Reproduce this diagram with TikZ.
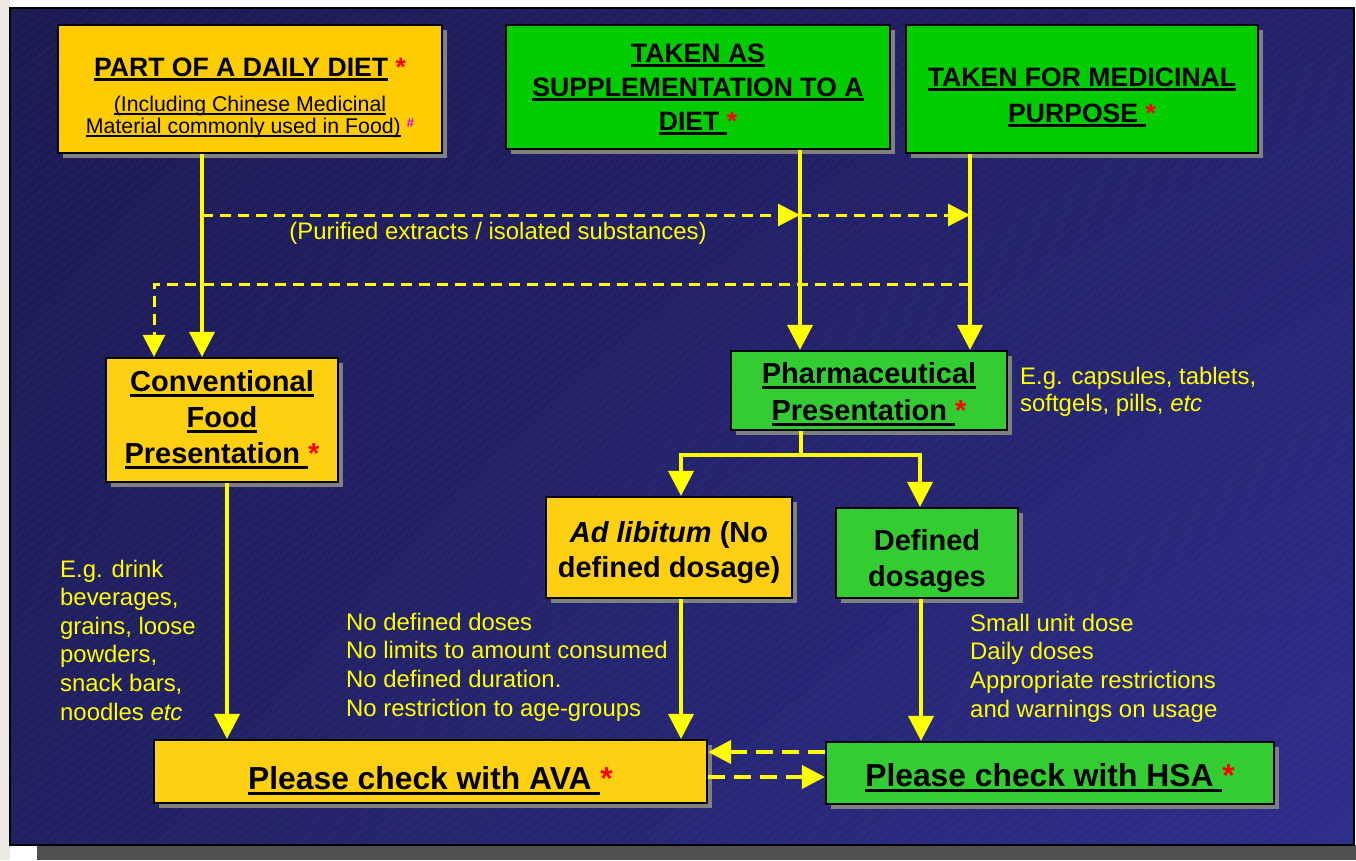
\documentclass[tikz,border=0pt]{standalone}
\usepackage{fontspec}
\setmainfont{Liberation Sans}
\usetikzlibrary{arrows.meta,positioning,shadows,shadings,calc}
\definecolor{dietyellow}{RGB}{255,204,0}
\definecolor{boxyellow}{RGB}{255,208,17}
\definecolor{dietgreen}{RGB}{0,204,0}
\definecolor{boxgreen}{RGB}{51,204,51}
\definecolor{flowyellow}{RGB}{255,255,0}
\definecolor{shadowgray}{RGB}{128,128,128}
\definecolor{navyA}{RGB}{28,26,82}
\definecolor{navyB}{RGB}{36,34,108}
\definecolor{navyC}{RGB}{33,32,98}
\definecolor{navyD}{RGB}{46,46,140}
\definecolor{hashcol}{RGB}{204,0,255}
\definecolor{bandgray}{RGB}{80,80,80}
\definecolor{marginbeige}{RGB}{238,234,227}

\newcommand{\fs}[2]{\fontsize{#1}{#2}\selectfont}
\newcommand{\uln}[1]{\setbox0=\hbox{#1}\leavevmode\rlap{\rule[-0.18em]{\wd0}{0.1em}}\box0}
\newcommand{\rast}{\textcolor{red}{*}}
\newcommand{\padtop}[1]{\rule{0pt}{#1}}

\tikzset{
  box/.style={draw=black, line width=2.2pt, inner sep=0pt, align=center, font=\bfseries,
    drop shadow={shadow xshift=5pt, shadow yshift=-5pt, fill=shadowgray, opacity=1}},
  flow/.style={flowyellow, line width=3.8pt, -{Triangle[length=25pt,width=25pt]}},
  dflow/.style={flowyellow, line width=3pt, dash pattern=on 11pt off 7pt, -{Triangle[length=22pt,width=22pt]}},
  bflow/.style={flowyellow, line width=4pt, dash pattern=on 17pt off 9pt, -{Triangle[length=23pt,width=23pt]}},
  note/.style={text=flowyellow, align=left, anchor=west, inner sep=0pt},
  hatch/.style={white, opacity=0.06, line width=0.6pt}
}

\begin{document}
\begin{tikzpicture}[x=1pt, y=-1pt]
    \useasboundingbox (0,0) rectangle (1356,860);

    % Backdrop
    \fill[white] (0,0) rectangle (1356,860);
    \fill[marginbeige] (0,0) rectangle (10,860);
    \fill[bandgray] (37,845) rectangle (1356,860);
    \shade[upper left=navyA, upper right=navyB, lower left=navyC, lower right=navyD] (10,8) rectangle (1354,845);
    \begin{scope}
        \clip (10,8) rectangle (1354,845);
        \foreach \i in {-1200,-1188,...,1400}
            \draw[hatch] (\i,860) -- ++(1140,-866);
    \end{scope}
    \draw[black, line width=1.5pt] (10,8) rectangle (1354,845);

    % Top row
    \node[box, fill=dietyellow, minimum width=384pt, minimum height=128pt, font=\fs{21.3}{22}] (diet) at (250,89)
        {{\fs{26.6}{30}\bfseries\padtop{36pt}\uln{PART OF A DAILY DIET}~\rast}\\[13pt]
         \uln{(Including Chinese Medicinal}\\
         \uln{Material commonly used in Food)}~{\fs{13}{13}\bfseries\textcolor{hashcol}{\raisebox{6pt}{\#}}}};
    \node[box, fill=dietgreen, minimum width=384pt, minimum height=124pt, font=\fs{26.6}{34}\bfseries] (supp) at (698,87)
        {\padtop{23pt}\uln{TAKEN AS}\\ \uln{SUPPLEMENTATION TO A}\\ \uln{DIET\ }\rast};
    \node[box, fill=dietgreen, minimum width=352pt, minimum height=128pt, font=\fs{26.6}{36}\bfseries] (med) at (1082,89)
        {\padtop{35pt}\uln{TAKEN FOR MEDICINAL}\\ \uln{PURPOSE\ }\rast};

    % Presentations
    \node[box, fill=boxyellow, minimum width=232pt, minimum height=124pt, font=\fs{29}{36}\bfseries] (food) at (222,420)
        {\uln{Conventional}\\ \uln{Food}\\ \uln{Presentation\ }\rast};
    \node[box, fill=boxgreen, minimum width=276pt, minimum height=79pt, font=\fs{29}{37}\bfseries] (pharma) at (869,390.5)
        {\padtop{29pt}\uln{Pharmaceutical}\\ \uln{Presentation\ }\rast};
    \node[box, fill=boxyellow, minimum width=246pt, minimum height=101pt, font=\fs{29}{35}\bfseries] (adlib) at (669,547.5)
        {\padtop{32pt}\textit{Ad libitum} (No\\ defined dosage)};
    \node[box, fill=boxgreen, minimum width=182pt, minimum height=90pt, font=\fs{29}{36}\bfseries] (defd) at (927,553)
        {\padtop{37pt}Defined\\ dosages};

    % Regulators
    \node[box, fill=boxyellow, minimum width=553pt, minimum height=63pt, font=\fs{31.8}{36}\bfseries] (ava) at (430.5,771.5)
        {\padtop{41pt}\uln{Please check with AVA\ }\rast};
    \node[box, fill=boxgreen, minimum width=448pt, minimum height=62pt, font=\fs{31.8}{36}\bfseries] (hsa) at (1050,773)
        {\padtop{33pt}\uln{Please check with HSA\ }\rast};

    % Notes
    \node[text=flowyellow, inner sep=0pt, font=\fs{23.9}{28}] (purified) at (498,233) {(Purified extracts / isolated substances)};
    \node[note, font=\fs{23.9}{27}] (egpharma) at (1020,392) {E.g. capsules, tablets,\\ softgels, pills, \textit{etc}};
    \node[note, font=\fs{23.9}{28.6}] (egfood) at (60,640) {E.g. drink\\ beverages,\\ grains, loose\\ powders,\\ snack bars,\\ noodles \textit{etc}};
    \node[note, font=\fs{23.9}{28.7}] (nodose) at (346,667) {No defined doses\\ No limits to amount consumed\\ No defined duration.\\ No restriction to age-groups};
    \node[note, font=\fs{23.9}{28.7}] (dosenote) at (970,668) {Small unit dose\\ Daily doses\\ Appropriate restrictions\\ and warnings on usage};

    % Solid flows
    \draw[flow] ([xshift=-48pt]diet.south) -- ([xshift=-48pt]diet.south |- food.north);
    \draw[flow] ([xshift=102pt]supp.south) -- ([xshift=102pt]supp.south |- pharma.north);
    \draw[flow] ([xshift=-112pt]med.south) -- ([xshift=-112pt]med.south |- pharma.north);
    \draw[flow] ([xshift=-68pt]pharma.south) -- ++(0,24) -| ([xshift=12pt]adlib.north);
    \draw[flow] ([xshift=-68pt]pharma.south) -- ++(0,24) -| ([xshift=-7pt]defd.north);
    \draw[flow] ([xshift=5pt]food.south) -- ([xshift=5pt]food.south |- ava.north);
    \draw[flow] ([xshift=12pt]adlib.south) -- ([xshift=12pt]adlib.south |- ava.north);
    \draw[flow] ([xshift=-6pt]defd.south) -- ([xshift=-6pt]defd.south |- hsa.north);

    % Dashed flows
    \coordinate (pu1) at (202,215);
    \coordinate (pu2) at (800,215);
    \coordinate (pu3) at (970,215);
    \coordinate (back) at (970,284);
    \draw[dflow] (pu1) -- (pu2);
    \draw[dflow] (pu2) -- (pu3);
    \draw[dflow] (back) -| ([xshift=-68pt]food.north);
    \draw[bflow] (hsa.west |- 0,752) -- (ava.east |- 0,752);
    \draw[bflow] (ava.east |- 0,777) -- (hsa.west |- 0,777);

\end{tikzpicture}
\end{document}
